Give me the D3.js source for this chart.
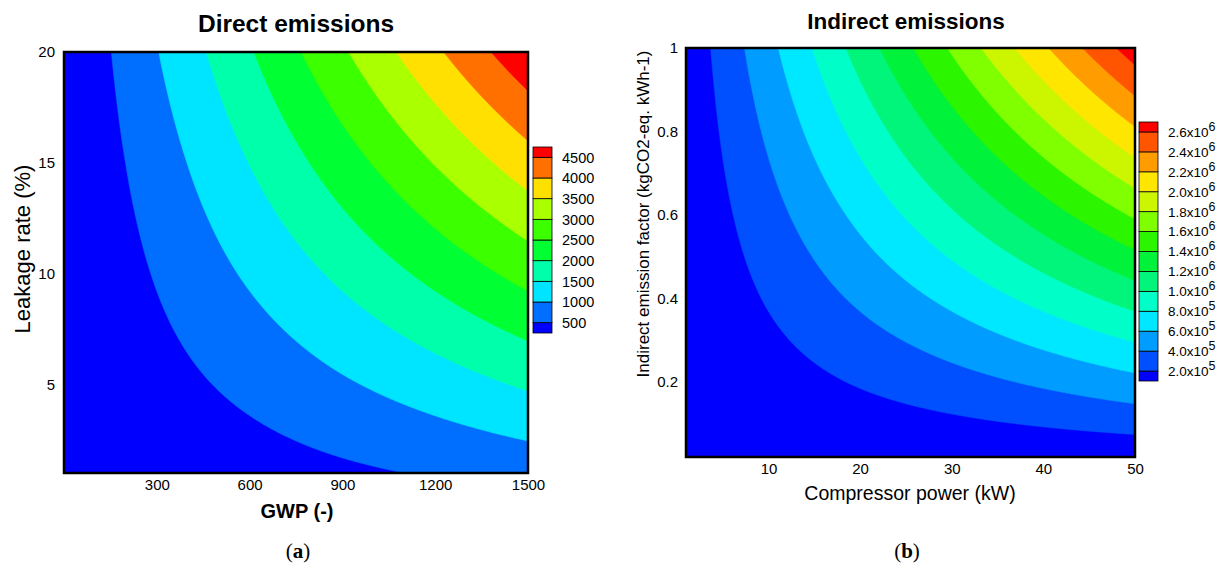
<!DOCTYPE html>
<html>
<head>
<meta charset="utf-8">
<script src="https://cdn.jsdelivr.net/npm/d3@7"></script>
<style>
  html, body { margin: 0; padding: 0; background: #fff; }
  svg { display: block; font-family: "Liberation Sans", Arial, Helvetica, sans-serif; }
</style>
</head>
<body>
<svg id="chart" width="1229" height="574"></svg>
<script>
// ---------------- DATA ----------------
// Panel (a): direct emissions, values at grid nodes (rows = leakage rate, cols = GWP)
const directGWP = [0, 300, 600, 900, 1200, 1500];
const directLeak = [1, 5, 10, 15, 20];
const directValues = [
  [0, 135, 270, 410, 545, 680],
  [0, 315, 625, 940, 1250, 1565],
  [0, 535, 1070, 1605, 2140, 2675],
  [0, 755, 1510, 2270, 3025, 3780],
  [0, 980, 1955, 2935, 3910, 4890]
];
const directLevels = [500, 1000, 1500, 2000, 2500, 3000, 3500, 4000, 4500];
const directColors = ["#0000ff", "#006eff", "#00e5ff", "#00ffaa", "#00ff33",
                      "#3cff00", "#aaff00", "#ffe000", "#ff7000", "#ff0000"];
const directXTicks = [300, 600, 900, 1200, 1500];
const directYTicks = [5, 10, 15, 20];

// Panel (b): indirect emissions, values at grid nodes (rows = emission factor, cols = power)
const indirectPower = [1, 10, 20, 30, 40, 50];
const indirectFactor = [0.02, 0.2, 0.4, 0.6, 0.8, 1.0];
const indirectValues = [
  [1.08e3, 1.08e4, 2.17e4, 3.25e4, 4.34e4, 5.42e4],
  [1.08e4, 1.08e5, 2.17e5, 3.25e5, 4.34e5, 5.42e5],
  [2.17e4, 2.17e5, 4.34e5, 6.50e5, 8.67e5, 1.084e6],
  [3.25e4, 3.25e5, 6.50e5, 9.76e5, 1.30e6, 1.626e6],
  [4.34e4, 4.34e5, 8.67e5, 1.30e6, 1.734e6, 2.168e6],
  [5.42e4, 5.42e5, 1.084e6, 1.626e6, 2.168e6, 2.71e6]
];
const indirectLevels = [2e5, 4e5, 6e5, 8e5, 1.0e6, 1.2e6, 1.4e6, 1.6e6, 1.8e6, 2.0e6, 2.2e6, 2.4e6, 2.6e6];
const indirectColors = ["#0000ff", "#0050ff", "#009cff", "#00e8ff", "#00ffc8", "#00f57a", "#00f23a",
                        "#2cf500", "#80ff00", "#ccf500", "#ffe600", "#ff9c00", "#ff5500", "#ff0000"];
const indirectXTicks = [10, 20, 30, 40, 50];
const indirectYTicks = [0.2, 0.4, 0.6, 0.8, 1];

// ---------------- HELPERS ----------------
const svg = d3.select("#chart");

function bilinear(xs, ys, vals, x, y) {
  const i = Math.max(0, Math.min(xs.length - 2, d3.bisectRight(xs, x) - 1));
  const j = Math.max(0, Math.min(ys.length - 2, d3.bisectRight(ys, y) - 1));
  const tx = (x - xs[i]) / (xs[i + 1] - xs[i]);
  const ty = (y - ys[j]) / (ys[j + 1] - ys[j]);
  return (1 - tx) * (1 - ty) * vals[j][i] + tx * (1 - ty) * vals[j][i + 1] +
         (1 - tx) * ty * vals[j + 1][i] + tx * ty * vals[j + 1][i + 1];
}

function drawContour(g, id, xScale, yScale, xs, ys, vals, levels, colors) {
  const [x0, x1] = xScale.range();
  const [y1, y0] = yScale.range();
  const w = x1 - x0, h = y1 - y0;
  const nx = Math.round(w), ny = Math.round(h);
  const grid = new Float64Array(nx * ny);
  for (let j = 0; j < ny; j++) {
    const py = y0 + (j + 0.5) * h / ny;
    const yv = yScale.invert(py);
    for (let i = 0; i < nx; i++) {
      const px = x0 + (i + 0.5) * w / nx;
      grid[i + j * nx] = bilinear(xs, ys, vals, xScale.invert(px), yv);
    }
  }
  const sx = w / nx, sy = h / ny;
  const path = d3.geoPath(d3.geoTransform({
    point: function (x, y) { this.stream.point(x0 + x * sx, y0 + y * sy); }
  }));
  svg.append("clipPath").attr("id", id).append("rect")
    .attr("x", x0).attr("y", y0).attr("width", w).attr("height", h);
  const cg = g.append("g").attr("clip-path", `url(#${id})`);
  cg.append("rect").attr("x", x0).attr("y", y0).attr("width", w).attr("height", h)
    .attr("fill", colors[0]);
  const contours = d3.contours().size([nx, ny]).thresholds(levels)(grid);
  cg.selectAll("path.band").data(contours).join("path")
    .attr("class", "band")
    .attr("d", path)
    .attr("fill", (d, k) => colors[k + 1])
    .attr("stroke", (d, k) => colors[k + 1])
    .attr("stroke-width", 0.6);
  g.append("rect").attr("x", x0).attr("y", y0).attr("width", w).attr("height", h)
    .attr("fill", "none").attr("stroke", "#000").attr("stroke-width", 2.5);
}

function drawLegend(g, x, yTop, yBottom, levels, colors, labelFn, fontSize) {
  const n = colors.length;           // boxes
  const unit = (yBottom - yTop) / (n - 1); // end boxes are half height
  const lvlY = d3.scaleLinear().domain([levels.length - 1, 0])
    .range([yTop + unit / 2, yTop + unit / 2 + (levels.length - 1) * unit]);
  const boxW = 19;
  colors.forEach((c, k) => {
    const top = k === n - 1 ? yTop : lvlY(k);
    const bot = k === 0 ? yBottom : lvlY(k - 1);
    g.append("rect").attr("x", x).attr("y", top).attr("width", boxW).attr("height", bot - top)
      .attr("fill", c).attr("stroke", "#000").attr("stroke-width", 0.8);
  });
  levels.forEach((v, k) => {
    labelFn(g.append("text").attr("x", x + boxW + 10).attr("y", lvlY(k) + fontSize * 0.36)
      .attr("font-size", fontSize).attr("fill", "#000"), v);
  });
}

// ---------------- PANEL (a) ----------------
const ga = svg.append("g");
const xA = d3.scaleLinear().domain([0, 1500]).range([64, 528]);
const yA = d3.scaleLinear().domain([1, 20]).range([473, 52]);
drawContour(ga, "clipA", xA, yA, directGWP, directLeak, directValues, directLevels, directColors);

const axA = ga.append("g").attr("transform", "translate(0,473)")
  .call(d3.axisBottom(xA).tickValues(directXTicks).tickFormat(d3.format("d")).tickSize(0).tickPadding(6));
const ayA = ga.append("g").attr("transform", "translate(64,0)")
  .call(d3.axisLeft(yA).tickValues(directYTicks).tickFormat(d3.format("d")).tickSize(0).tickPadding(9));
[axA, ayA].forEach(a => {
  a.select(".domain").remove();
  a.selectAll("text").attr("font-size", 15).attr("fill", "#000")
    .attr("font-family", '"Liberation Sans", Arial, sans-serif');
});

ga.append("text").attr("x", 296).attr("y", 32).attr("text-anchor", "middle")
  .attr("font-size", 24.5).attr("font-weight", "bold").text("Direct emissions");
ga.append("text").attr("x", 297).attr("y", 518).attr("text-anchor", "middle")
  .attr("font-size", 20).attr("font-weight", "bold").text("GWP (-)");
ga.append("text").attr("transform", "translate(30,249) rotate(-90)").attr("text-anchor", "middle")
  .attr("font-size", 22).text("Leakage rate (%)");

drawLegend(ga, 533, 147, 333, directLevels, directColors,
  (t, v) => t.text(v), 14.5);

// ---------------- PANEL (b) ----------------
const gb = svg.append("g");
const xB = d3.scaleLinear().domain([1, 50]).range([686, 1135]);
const yB = d3.scaleLinear().domain([0.02, 1]).range([457, 48]);
drawContour(gb, "clipB", xB, yB, indirectPower, indirectFactor, indirectValues, indirectLevels, indirectColors);

const axB = gb.append("g").attr("transform", "translate(0,457)")
  .call(d3.axisBottom(xB).tickValues(indirectXTicks).tickFormat(d3.format("d")).tickSize(0).tickPadding(6));
const ayB = gb.append("g").attr("transform", "translate(686,0)")
  .call(d3.axisLeft(yB).tickValues(indirectYTicks).tickSize(0).tickPadding(8)
    .tickFormat(d => d === 1 ? "1" : d3.format(".1f")(d)));
[axB, ayB].forEach(a => {
  a.select(".domain").remove();
  a.selectAll("text").attr("font-size", 15).attr("fill", "#000")
    .attr("font-family", '"Liberation Sans", Arial, sans-serif');
});

gb.append("text").attr("x", 906).attr("y", 29).attr("text-anchor", "middle")
  .attr("font-size", 22.5).attr("font-weight", "bold").text("Indirect emissions");
gb.append("text").attr("x", 910).attr("y", 500).attr("text-anchor", "middle")
  .attr("font-size", 19.5).text("Compressor power (kW)");
gb.append("text").attr("transform", "translate(649,214) rotate(-90)").attr("text-anchor", "middle")
  .attr("font-size", 17).text("Indirect emission factor (kgCO2-eq. kWh-1)");

drawLegend(gb, 1139, 122, 381, indirectLevels, indirectColors, (t, v) => {
  const e = Math.floor(Math.log10(v) + 1e-9);
  const m = (v / Math.pow(10, e)).toFixed(1);
  t.text(m + "x10");
  t.append("tspan").attr("dy", -6).attr("font-size", 12.5).text(e);
}, 13.5);

// ---------------- CAPTIONS ----------------
[[298, "a"], [907, "b"]].forEach(([x, l]) => {
  const t = svg.append("text").attr("x", x).attr("y", 558).attr("text-anchor", "middle")
    .attr("font-family", '"Liberation Serif", "Times New Roman", serif').attr("font-size", 21);
  t.append("tspan").text("(");
  t.append("tspan").attr("font-weight", "bold").text(l);
  t.append("tspan").text(")");
});
</script>
</body>
</html>
